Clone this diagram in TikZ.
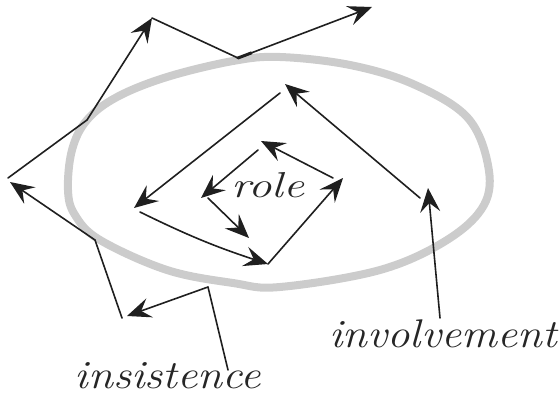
\documentclass[tikz,border=0pt]{standalone}
\usepackage{graphicx}
\usetikzlibrary{arrows.meta,calc}
\begin{document}
\begin{tikzpicture}[x=1pt,y=-1pt,
  ink/.style={line width=1.6pt, draw=black!88, line cap=round, line join=round},
  arr/.style={ink, -{Stealth[length=24pt,width=20pt,inset=9pt,fill=black!88]}},
  hand/.style={inner sep=0pt, text=black!85}]
\useasboundingbox (0,0) rectangle (559,396);
% grey ring
\draw[line width=8pt, draw=black!20, line cap=round]
  plot[smooth cycle, tension=0.6] coordinates {(68,190) (72,150) (87,120) (117,97) (167,77) (233,61) (280,57) (350,65) (413,84) (467,117) (488,165) (484,205) (447,240) (380,270) (280,287) (233,283) (167,270) (100,240) (75,215)};
% labels
\node[hand, font=\itshape\fontsize{40}{40}\selectfont, anchor=base] (ins) at (168,388) {\scalebox{1.13}[1]{insistence}};
\node[hand, font=\itshape\fontsize{40}{40}\selectfont, anchor=base] (inv) at (443,347) {\scalebox{1.12}[1]{involvement}};
\node[hand, font=\itshape\fontsize{36}{36}\selectfont, anchor=base] (role) at (268,197) {\scalebox{1.3}[1]{role}};
% outer zigzag coordinates
\coordinate (i1) at (228,370);
\coordinate (i2) at (208,287);
\coordinate (i3) at (127,316);
\coordinate (i4) at (122,318);
\coordinate (i5) at (95,240);
\coordinate (i6) at (10,182);
\coordinate (i7) at (8,178);
\coordinate (i8) at (87,120);
\coordinate (i9) at (152,18);
\coordinate (i10) at (238,58);
\coordinate (i11) at (372,7);
% inner spiral coordinates
\coordinate (v1) at (440,318);
\coordinate (v2) at (428,188);
\coordinate (v3) at (420,198);
\coordinate (v4) at (285,84);
\coordinate (v5) at (280,93);
\coordinate (v6) at (134,208);
\coordinate (v7) at (140,212);
\coordinate (v8) at (268,264);
\coordinate (v10) at (343,178);
\coordinate (v11) at (333,178);
\coordinate (v12) at (261,141);
\coordinate (v13) at (258,150);
\coordinate (v14) at (201,198);
\coordinate (v15) at (208,198);
\coordinate (v16) at (249,238);
% outer zigzag
\draw[ink] (i1) -- (i2);
\draw[arr] (i2) -- (i3);
\draw[ink] (i4) -- (i5);
\draw[arr] (i5) -- (i6);
\draw[ink] (i7) -- (i8);
\draw[arr] (i8) -- (i9);
\draw[ink] (i9) -- (i10);
\draw[arr] (i10) -- (i11);
\draw[line width=3pt, draw=black!88, line cap=round] (i10) -- ($(i10)!0.1!(i11)$);
% inner spiral
\draw[arr] (v1) -- (v2);
\draw[arr] (v3) -- (v4);
\draw[arr] (v5) -- (v6);
\draw[arr] (v7) to[bend right=4] (v8);
\draw[arr] (v8) -- (v10);
\draw[arr] (v11) -- (v12);
\draw[arr] (v13) -- (v14);
\draw[arr] (v15) -- (v16);
\end{tikzpicture}
\end{document}
